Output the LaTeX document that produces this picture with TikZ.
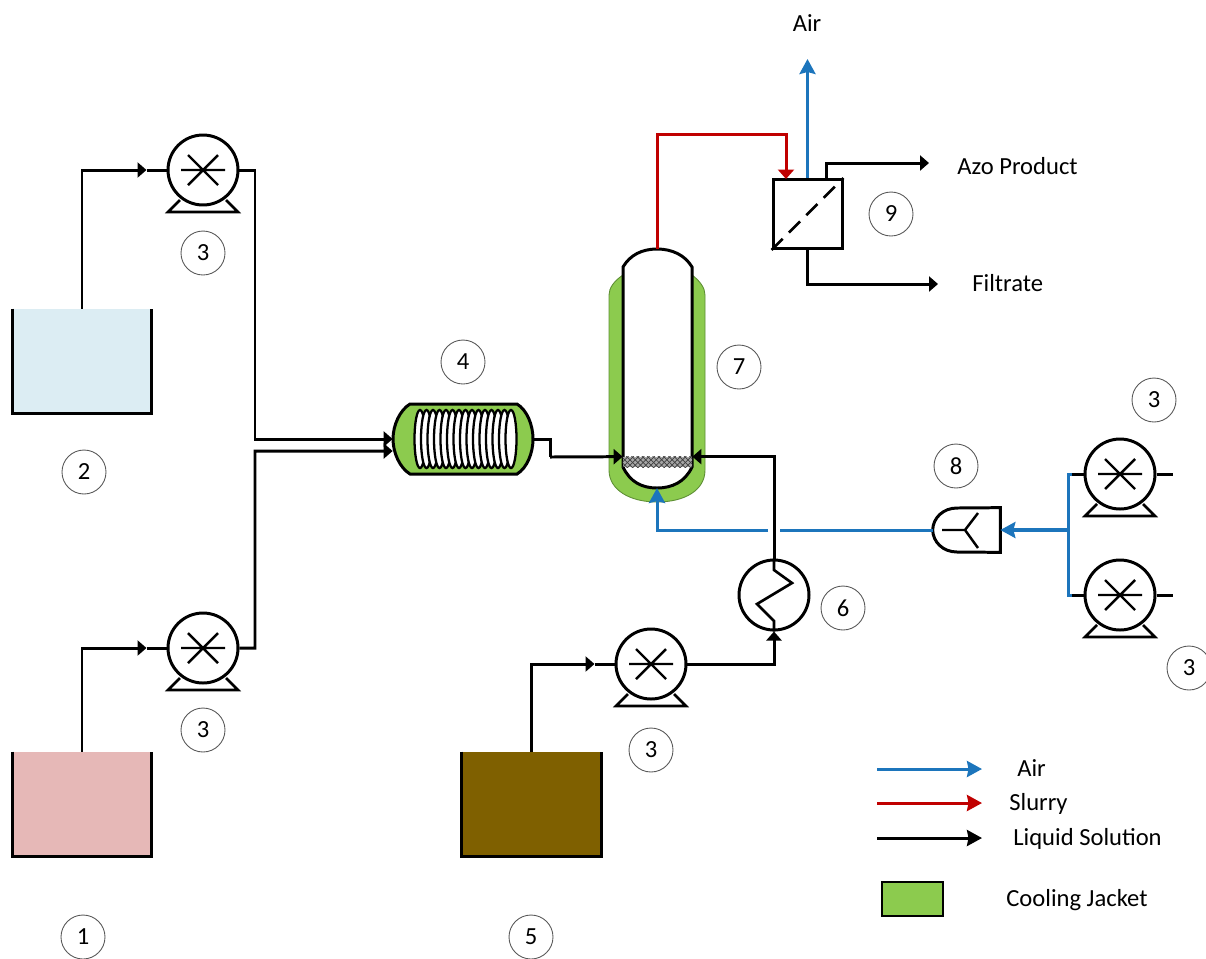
\documentclass[tikz,border=0pt]{standalone}
\usepackage{fontspec}
\setmainfont{Carlito}
\usetikzlibrary{arrows.meta, positioning, patterns}
\definecolor{airblue}{HTML}{1C75BC}
\definecolor{slurryred}{HTML}{C00000}
\definecolor{jacket}{HTML}{8CCB4E}
\definecolor{jacketedge}{HTML}{5E8F35}
\definecolor{tankblue}{HTML}{DCEDF3}
\definecolor{tankpink}{HTML}{E6B8B7}
\definecolor{tankbrown}{HTML}{7F6000}
\tikzset{
    liquid/.style={line width=1.7pt, draw=black, line join=miter},
    liquidarrow/.style={liquid, -{Triangle[length=1.8mm, width=3mm]}},
    airline/.style={line width=1.7pt, draw=airblue},
    airarrow/.style={airline, -{Stealth[length=3mm, width=3.2mm, inset=0.4mm]}},
    slurryarrow/.style={line width=1.7pt, draw=slurryred, -{Triangle[length=1.9mm, width=3.2mm]}},
    keyair/.style={airline, -{Stealth[length=3mm, width=3.2mm, inset=0.3mm]}},
    keyslurry/.style={line width=1.7pt, draw=slurryred, -{Stealth[length=3mm, width=3.2mm, inset=0.3mm]}},
    keyliquid/.style={liquid, -{Stealth[length=3mm, width=3.2mm, inset=0.3mm]}},
    vessel/.style={line width=1.7pt, draw=black},
    pumpbody/.style={circle, draw=black, line width=1.7pt, fill=white, minimum size=1.4cm, inner sep=0pt},
    tankbody/.style={rectangle, minimum width=2.78cm, minimum height=2.08cm, inner sep=0pt},
    holder/.style={rectangle, inner sep=0pt},
    numtag/.style={circle, draw=black!65, line width=0.5pt, fill=white, minimum size=0.88cm, inner sep=0pt, font=\fontsize{14}{16}\selectfont},
    label/.style={inner sep=0pt, font=\fontsize{14}{16}\selectfont}
}
% star and feet of a pump
\newcommand{\pumpparts}[1]{
    \begin{scope}[shift={(#1.center)}]
        \draw[line width=1.4pt] (-22,0) -- (22,0) (-15,-15) -- (15,15) (-15,15) -- (15,-15);
        \draw[line width=1.5pt] (-23,30) -- (-35,42) -- (35,42) -- (23,30);
    \end{scope}
}
\begin{document}
\begin{tikzpicture}[x=0.02cm, y=-0.02cm]
    \useasboundingbox (0,0) rectangle (1206,958);

    % tanks
    \node[tankbody, fill=tankblue] (t2) at (82,361) {};
    \draw[vessel] (t2.north west) -- (t2.south west) -- (t2.south east) -- (t2.north east);
    \node[tankbody, fill=tankpink] (t1) at (82,804) {};
    \draw[vessel] (t1.north west) -- (t1.south west) -- (t1.south east) -- (t1.north east);
    \node[tankbody, fill=tankbrown] (t5) at (531.5,804) {};
    \draw[vessel] (t5.north west) -- (t5.south west) -- (t5.south east) -- (t5.north east);

    % pumps
    \node[pumpbody] (p2) at (203,170) {};
    \node[pumpbody] (p1) at (203,648) {};
    \node[pumpbody] (p5) at (651,664) {};
    \node[pumpbody] (pa) at (1120,474) {};
    \node[pumpbody] (pb) at (1120,595) {};
    \pumpparts{p2}
    \pumpparts{p1}
    \pumpparts{p5}
    \pumpparts{pa}
    \pumpparts{pb}

    % coil reactor
    \node[holder, minimum width=2.8cm, minimum height=1.4cm] (rx) at (463,439) {};
    \draw[line width=1.7pt, fill=jacket] (410,404) -- (517,404) .. controls (527,410) and (533,425) .. (533,439)
        .. controls (533,453) and (527,468) .. (517,474) -- (410,474)
        .. controls (400,468) and (393,453) .. (393,439) .. controls (393,425) and (400,410) .. (410,404) -- cycle;
    \foreach \i in {0,...,14} {
        \draw[line width=1.3pt, fill=white] (420+6.5*\i,439) ellipse (0.11cm and 0.58cm);
    }

    % jacketed column
    \draw[draw=jacketedge, line width=0.5pt, fill=jacket] (623,275) .. controls (614,281) and (609,288) .. (609,295)
        -- (609,470) .. controls (609,490) and (630,502) .. (657,502) .. controls (685,502) and (705,490) .. (705,470)
        -- (705,295) .. controls (705,288) and (700,281) .. (692,275) -- cycle;
    \draw[vessel, fill=white] (623,467) -- (623,267) .. controls (630,255) and (642,249) .. (657,249)
        .. controls (672,249) and (685,255) .. (692,267) -- (692,467)
        .. controls (685,482) and (672,488) .. (657,488) .. controls (642,488) and (630,482) .. (623,467) -- cycle;
    \node[holder, minimum width=1.38cm, minimum height=0.2cm, fill=black!35] (bed) at (657.5,462) {};
    \fill[pattern=crosshatch, pattern color=black!75] (bed.north west) rectangle (bed.south east);
    \coordinate (coltop) at (657,249);
    \coordinate (colbot) at (657,488);

    % heater
    \node[pumpbody] (hx) at (774,595) {};
    \draw[line width=1.5pt] (hx.north) -- (774,570) -- (792,583) -- (757,604) -- (774,621) -- (hx.south);

    % filter
    \node[rectangle, draw=black, line width=1.7pt, minimum size=1.38cm, inner sep=0pt] (fil) at (807.5,214) {};
    \draw[line width=1.5pt, dash pattern=on 9pt off 5pt] (fil.south west) -- (fil.north east);

    % mixer
    \node[holder, minimum width=1.34cm, minimum height=0.88cm] (mix) at (966.5,530) {};
    \draw[vessel, fill=white] (mix.north east) -- (957,508) .. controls (943,508) and (933,518) .. (mix.west)
        .. controls (933,542) and (943,552) .. (957,552) -- (mix.south east) -- cycle;
    \draw[line width=1.4pt] (942,530) -- (965,530) (978,513) -- (965,530) -- (978,548);

    % liquid lines
    \draw[liquidarrow] (t2.north) |- ([xshift=-0.4cm]p2.west);
    \draw[liquid] ([xshift=-0.4cm]p2.west) -- (p2.west);
    \draw[liquidarrow] (t1.north) |- ([xshift=-0.4cm]p1.west);
    \draw[liquid] ([xshift=-0.4cm]p1.west) -- (p1.west);
    \draw[liquidarrow] (t5.north) |- ([xshift=-0.4cm]p5.west);
    \draw[liquid] ([xshift=-0.4cm]p5.west) -- (p5.west);
    \coordinate (bus2) at (255,439);
    \coordinate (bus1) at (255,451);
    \draw[liquidarrow] (p2.east) -| (bus2) -- (rx.west);
    \draw[liquidarrow] (p1.east) -| (bus1) -- ([yshift=-0.24cm]rx.west);
    \coordinate (rxout) at (550,457);
    \draw[liquid] (rx.east) -| (rxout);
    \draw[liquidarrow] (rxout) -- (bed.north west);
    \draw[liquidarrow] (hx.north) |- (bed.north east);
    \draw[liquidarrow] (p5.east) -| (hx.south);

    % slurry and filter outlets
    \coordinate (slurrytop) at (657,134);
    \coordinate (filin) at (786,179);
    \draw[slurryarrow] (coltop) -- (slurrytop) -| (filin);
    \coordinate (airout) at (807.5,59);
    \coordinate (azo) at (929,163);
    \coordinate (azostart) at (826,179);
    \coordinate (filt) at (938,284);
    \draw[liquidarrow] (azostart) |- (azo);
    \draw[liquidarrow] (fil.south) |- (filt);

    % air lines
    \coordinate (junc) at (1068,530);
    \coordinate (gape) at (780,530);
    \coordinate (gapw) at (768,530);
    \coordinate (elbow) at (657,530);
    \draw[airline] (mix.west) -- (gape);
    \draw[airarrow] (gapw) -- (elbow) -- (colbot);
    \draw[airarrow, line width=2.4pt] (junc) -- (mix.east);
    \coordinate (jua) at (1072,474);
    \coordinate (jub) at (1072,595);
    \draw[airline] (jua) -| (junc) |- (jub);
    \draw[liquid] (jua) -- (pa.west);
    \draw[liquid] (jub) -- (pb.west);
    \coordinate (sta) at (1173,474);
    \coordinate (stb) at (1173,595);
    \draw[liquid] (pa.east) -- (sta);
    \draw[liquid] (pb.east) -- (stb);
    \draw[airarrow] (fil.north) -- (airout);

    % numbers
    \node[numtag] (n1) at (83,937) {1};
    \node[numtag] (n2) at (84,472) {2};
    \node[numtag] (n3a) at (203,253) {3};
    \node[numtag] (n3b) at (203,730) {3};
    \node[numtag] (n3c) at (651,750) {3};
    \node[numtag] (n3d) at (1154,400) {3};
    \node[numtag] (n3e) at (1189,668) {3};
    \node[numtag] (n4) at (463,362) {4};
    \node[numtag] (n5) at (531,937) {5};
    \node[numtag] (n6) at (843,608) {6};
    \node[numtag] (n7) at (739,367) {7};
    \node[numtag] (n8) at (956,466) {8};
    \node[numtag] (n9) at (891,214) {9};

    % stream names
    \node[label, anchor=base] (lair) at (807,31) {Air};
    \node[label, anchor=base west] (lazo) at (957,174) {Azo Product};
    \node[label, anchor=base west] (lfil) at (972,291) {Filtrate};

    % legend
    \node[label, anchor=base west] (kair) at (1017,776) {Air};
    \node[label, anchor=base west] (kslu) at (1009,810) {Slurry};
    \node[label, anchor=base west] (kliq) at (1013,845) {Liquid Solution};
    \node[label, anchor=base west] (kjac) at (1006,906) {Cooling Jacket};
    \coordinate (a1) at (877,769);
    \coordinate (a2) at (982,769);
    \coordinate (b1) at (877,803);
    \coordinate (b2) at (982,803);
    \coordinate (c1) at (877,838);
    \coordinate (c2) at (982,838);
    \draw[keyair] (a1) -- (a2);
    \draw[keyslurry] (b1) -- (b2);
    \draw[keyliquid] (c1) -- (c2);
    \node[rectangle, draw=black, line width=1pt, fill=jacket, minimum width=1.22cm, minimum height=0.68cm, inner sep=0pt] (kbox) at (912.5,899) {};
\end{tikzpicture}
\end{document}
